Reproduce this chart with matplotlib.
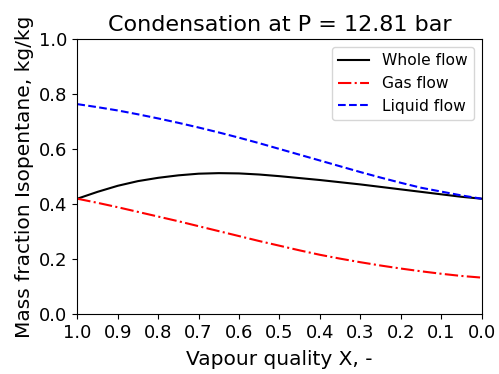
import numpy as np
import matplotlib
matplotlib.use("Agg")
import matplotlib.pyplot as plt

# Vapour quality values
quality = [1.0, 0.95, 0.9, 0.85, 0.8, 0.75, 0.7, 0.65, 0.6, 0.55, 0.5,
           0.45, 0.4, 0.35, 0.3, 0.25, 0.2, 0.15, 0.1, 0.05, 0.0]
whole_flow = [0.42, 0.445, 0.467, 0.484, 0.496, 0.505, 0.511, 0.513, 0.512, 0.508, 0.502,
              0.495, 0.488, 0.480, 0.472, 0.463, 0.454, 0.445, 0.436, 0.427, 0.42]
gas_flow = [0.42, 0.405, 0.389, 0.372, 0.355, 0.338, 0.320, 0.302, 0.284, 0.266, 0.249,
            0.232, 0.216, 0.202, 0.189, 0.177, 0.166, 0.156, 0.147, 0.139, 0.133]
liquid_flow = [0.764, 0.753, 0.741, 0.727, 0.712, 0.696, 0.679, 0.661, 0.642, 0.622, 0.601,
               0.580, 0.559, 0.538, 0.517, 0.497, 0.478, 0.460, 0.446, 0.432, 0.42]

fig = plt.figure(figsize=(4.99, 3.74), dpi=100)
ax = fig.add_subplot(111)

ax.plot(quality, whole_flow, color="k", linestyle="-", label="Whole flow")
ax.plot(quality, gas_flow, color="r", linestyle="-.", label="Gas flow")
ax.plot(quality, liquid_flow, color="b", linestyle="--", label="Liquid flow")

ax.set_xlim(1.0, 0.0)
ax.set_ylim(0.0, 1.0)
ax.set_xticks(np.arange(0, 11) / 10)
ax.set_yticks(np.arange(0, 6) / 5)
ax.tick_params(labelsize=13)

ax.set_title("Condensation at P = 12.81 bar", fontsize=16)
ax.set_xlabel("Vapour quality X, -", fontsize=14.5, labelpad=6)
ax.set_ylabel("Mass fraction Isopentane, kg/kg", fontsize=14.5)
ax.legend(loc="upper right", fontsize=11.2)

fig.subplots_adjust(left=0.155, right=0.965, top=0.895, bottom=0.16)
fig.savefig("out.png")
